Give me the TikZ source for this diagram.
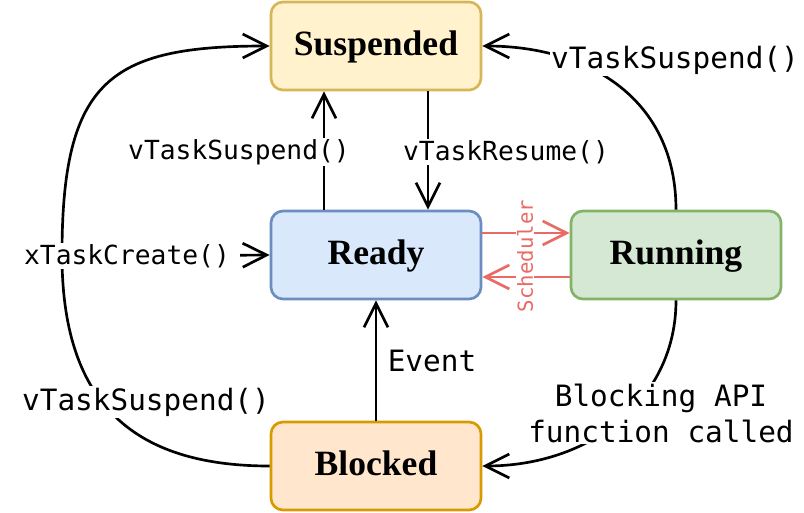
\documentclass[tikz,border=0pt]{standalone}
\usepackage{fontspec}
\setmainfont{Liberation Serif}
\setmonofont{DejaVu Sans Mono}
\usetikzlibrary{arrows.meta}
\tikzstyle{pixelGrid} = [x = 0.025cm, y = -0.025cm]
\definecolor{suspendedFill}{RGB}{255,242,204}
\definecolor{suspendedLine}{RGB}{214,182,86}
\definecolor{readyFill}{RGB}{218,232,252}
\definecolor{readyLine}{RGB}{108,142,191}
\definecolor{runningFill}{RGB}{213,232,212}
\definecolor{runningLine}{RGB}{130,179,102}
\definecolor{blockedFill}{RGB}{255,230,204}
\definecolor{blockedLine}{RGB}{215,155,0}
\definecolor{schedColor}{RGB}{234,107,102}
\tikzstyle{stateStyle} = [rectangle, rounded corners = .3cm, line width = 1.9pt, minimum width = 5.25cm, minimum height = 2.2cm, text height = 19pt, text depth = 5pt, font = \fontsize{25.3}{30}\selectfont\bfseries]
\tikzstyle{transition} = [line width = 1.9pt, -{Straight Barb[length = .6cm, width = .6cm]}]
\tikzstyle{callText} = [fill = white, inner sep = 1pt, font = \fontsize{18.7}{22}\selectfont\ttfamily]
\tikzstyle{edgeText} = [fill = white, inner sep = 1pt, align = center, font = \fontsize{20.9}{25.6}\selectfont\ttfamily]
\tikzstyle{schedText} = [fill = white, inner sep = 1pt, rotate = 90, text = schedColor, font = \fontsize{14.7}{18}\selectfont\ttfamily]
\newcommand{\stateBox}[4]{\node [stateStyle, fill = #4Fill, draw = #4Line] (#4) at (#1, #2) {#3};}

\begin{document}
\begin{tikzpicture}[pixelGrid]
  \useasboundingbox (0, 0) rectangle (804, 513);
  \stateBox{376}{46}{Suspended}{suspended}
  \stateBox{376}{255}{Ready}{ready}
  \stateBox{676}{255}{Running}{running}
  \stateBox{376}{466}{Blocked}{blocked}
  \coordinate (leftTurn) at (62, 255);

  % straight transitions
  \draw [transition] ([xshift = -1.3cm]ready.north) -- ([xshift = -1.3cm]suspended.south);
  \draw [transition] ([xshift = 1.3cm]suspended.south) -- ([xshift = 1.3cm]ready.north);
  \draw [transition] (blocked) -- (ready);
  \draw [transition, color = schedColor] ([yshift = .55cm]ready.east) -- ([yshift = .55cm]running.west);
  \draw [transition, color = schedColor] ([yshift = -.55cm]running.west) -- ([yshift = -.55cm]ready.east);

  % curved transitions
  \draw [transition] (blocked.west) .. controls (130, 466) and (62, 400) .. (leftTurn)
                     .. controls (62, 80) and (110, 46) .. (suspended.west);
  \draw [transition] (running.north) .. controls (676, 100) and (590, 46) .. (suspended.east);
  \draw [transition] (running.south) .. controls (676, 400) and (590, 466) .. (blocked.east);

  % labels
  \node [callText] (suspendCall) at (239, 152) {vTaskSuspend()};
  \node [callText] (resumeCall) at (506, 152) {vTaskResume()};
  \node [callText] (createCall) at (127, 256) {xTaskCreate()};
  \node [edgeText] (runSuspend) at (675, 60) {vTaskSuspend()};
  \node [edgeText] (blockSuspend) at (146, 402) {vTaskSuspend()};
  \node [edgeText, fill = none] (eventText) at (432, 361) {Event};
  \node [edgeText] (blockCall) at (661, 413) {Blocking API\\function called};
  \node [schedText] (schedLabel) at (525, 256) {Scheduler};
  \draw [transition, shorten <= 6pt] (createCall) -- (ready.west);
\end{tikzpicture}
\end{document}
